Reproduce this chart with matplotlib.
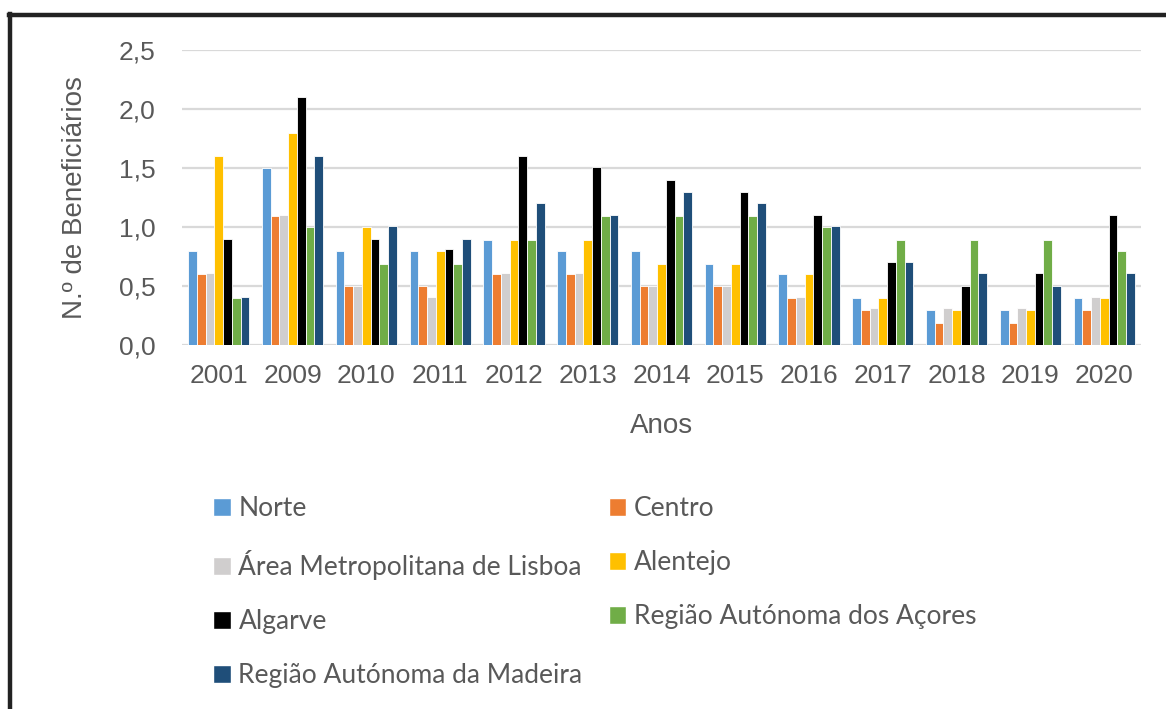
import numpy as np
import matplotlib
matplotlib.use("Agg")
import matplotlib.pyplot as plt
from matplotlib.patches import Patch
from matplotlib.lines import Line2D

anos = ['2001', '2009', '2010', '2011', '2012', '2013', '2014',
        '2015', '2016', '2017', '2018', '2019', '2020']

norte   = [0.8, 1.5, 0.8, 0.8, 0.89, 0.8, 0.8, 0.69, 0.6, 0.4, 0.3, 0.3, 0.4]
centro  = [0.6, 1.09, 0.5, 0.5, 0.6, 0.6, 0.5, 0.5, 0.4, 0.3, 0.19, 0.19, 0.3]
lisboa  = [0.61, 1.1, 0.5, 0.41, 0.61, 0.61, 0.5, 0.5, 0.41, 0.31, 0.31, 0.31, 0.41]
alentejo = [1.6, 1.8, 1.0, 0.8, 0.89, 0.89, 0.69, 0.69, 0.6, 0.4, 0.3, 0.3, 0.4]
algarve = [0.9, 2.1, 0.9, 0.81, 1.6, 1.51, 1.4, 1.3, 1.1, 0.7, 0.5, 0.61, 1.1]
acores  = [0.4, 1.0, 0.69, 0.69, 0.89, 1.09, 1.09, 1.09, 1.0, 0.89, 0.89, 0.89, 0.8]
madeira = [0.41, 1.6, 1.01, 0.9, 1.2, 1.1, 1.3, 1.2, 1.01, 0.7, 0.61, 0.5, 0.61]

series = [
    ('Norte', norte, '#5b9bd5'),
    ('Centro', centro, '#ed7d31'),
    ('Área Metropolitana de Lisboa', lisboa, '#d0cece'),
    ('Alentejo', alentejo, '#ffc000'),
    ('Algarve', algarve, '#000000'),
    ('Região Autónoma dos Açores', acores, '#70ad47'),
    ('Região Autónoma da Madeira', madeira, '#1f4e79'),
]

plt.rcParams['font.family'] = ['Liberation Sans', 'DejaVu Sans']
grey = '#595959'

fig = plt.figure(figsize=(11.66, 7.09), dpi=100)
ax = fig.add_axes([0.156, 0.5134, 0.8226, 0.4161])

x = np.arange(len(anos))
n = len(series)
w = 0.83 / n
for i, (name, vals, col) in enumerate(series):
    ax.bar(x - 0.415 + w * (i + 0.5), vals, w, color=col,
           edgecolor='white', linewidth=0.6, zorder=3, label=name)

ax.set_ylim(0, 2.5)
ax.set_xlim(-0.5, len(anos) - 0.5)
ax.set_yticks(np.arange(0, 2.51, 0.5))
ax.set_yticklabels([f'{v:.1f}'.replace('.', ',') for v in np.arange(0, 2.51, 0.5)])
ax.set_xticks(x)
ax.set_xticklabels(anos)
ax.tick_params(axis='both', length=0, labelsize=19, colors=grey)
ax.tick_params(axis='x', pad=14)
ax.tick_params(axis='y', pad=19)
ax.grid(axis='y', color='#d9d9d9', linewidth=1.6, zorder=0)
for s in ax.spines.values():
    s.set_visible(False)

ax.set_xlabel('Anos', fontsize=20, color=grey, labelpad=18)
ax.set_ylabel('N.º de Beneficiários', fontsize=20, color=grey, labelpad=22)

# legend: fills column-wise, so reorder to read row by row
order = [0, 2, 4, 6, 1, 3, 5]
handles = [Patch(facecolor=series[i][2], edgecolor='white') for i in order]
labels = [series[i][0] for i in order]
fig.legend(handles, labels, ncol=2, loc='upper left',
           bbox_to_anchor=(0.183, 0.3), frameon=False,
           prop={'family': ['Lato', 'DejaVu Sans'], 'size': 19},
           labelcolor=grey, handlelength=0.65, handleheight=0.65,
           handletextpad=0.3, labelspacing=1.1, columnspacing=1.0,
           borderaxespad=0, borderpad=0)

# frame on top and left edges
fig.add_artist(Line2D([0.0088, 0.0088], [0.0, 0.98], transform=fig.transFigure,
                      color='#222222', linewidth=3.2))
fig.add_artist(Line2D([0.0075, 1.0], [0.979, 0.979], transform=fig.transFigure,
                      color='#222222', linewidth=3.2))

fig.savefig('out.png', dpi=100)
